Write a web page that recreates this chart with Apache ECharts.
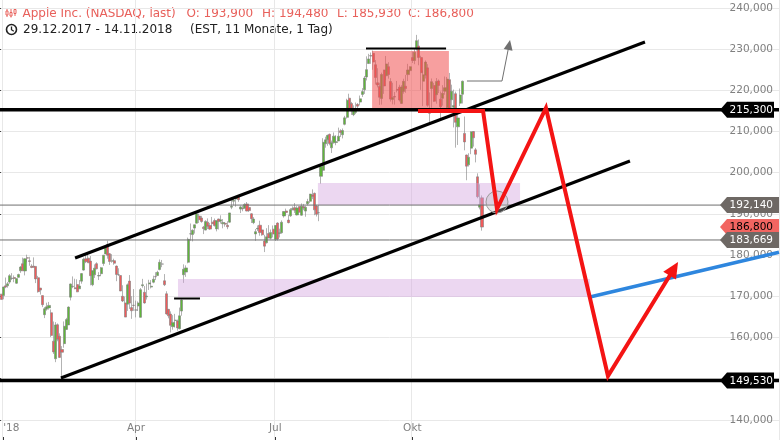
<!DOCTYPE html>
<html><head><meta charset="utf-8">
<script src="https://cdn.jsdelivr.net/npm/echarts@6/dist/echarts.min.js"></script>
<style>html,body{margin:0;padding:0;background:#fff}#c{width:780px;height:440px}</style>
</head><body><div id="c"></div>
<script>
// ---------- data ----------
const tradingMonths = [
  ['2017-12', [29]],
  ['2018-01', [2,3,4,5,8,9,10,11,12,16,17,18,19,22,23,24,25,26,29,30,31]],
  ['2018-02', [1,2,5,6,7,8,9,12,13,14,15,16,20,21,22,23,26,27,28]],
  ['2018-03', [1,2,5,6,7,8,9,12,13,14,15,16,19,20,21,22,23,26,27,28,29]],
  ['2018-04', [2,3,4,5,6,9,10,11,12,13,16,17,18,19,20,23,24,25,26,27,30]],
  ['2018-05', [1,2,3,4,7,8,9,10,11,14,15,16,17,18,21,22,23,24,25,29,30,31]],
  ['2018-06', [1,4,5,6,7,8,11,12,13,14,15,18,19,20,21,22,25,26,27,28,29]],
  ['2018-07', [2,3,5,6,9,10,11,12,13,16,17,18,19,20,23,24,25,26,27,30,31]],
  ['2018-08', [1,2,3,6,7,8,9,10,13,14,15,16,17,20,21,22,23,24,27,28,29,30,31]],
  ['2018-09', [4,5,6,7,10,11,12,13,14,17,18,19,20,21,24,25,26,27,28]],
  ['2018-10', [1,2,3,4,5,8,9,10,11,12,15,16,17,18,19,22,23,24,25,26,29,30,31]],
  ['2018-11', [1,2,5,6,7,8,9,12,13,14]]
];
const futureSlots = 136;

// [open, close, low, high]
const ohlc = [
  [170.52,169.23,169.22,170.59],
  // Jan
  [170.16,172.26,169.26,172.30],[172.53,172.23,171.96,174.55],[172.54,173.03,172.08,173.47],[173.44,175.00,173.05,175.37],
  [174.35,174.35,173.93,175.61],[174.55,174.33,173.41,175.06],[173.16,174.29,173.00,174.30],[174.59,175.28,174.49,175.49],
  [176.18,177.09,175.68,177.36],[177.90,176.19,176.14,179.39],[176.15,179.10,175.07,179.25],[179.37,179.26,178.25,180.10],
  [178.61,178.46,177.41,179.58],[177.30,177.00,176.82,177.78],[177.30,177.04,176.94,179.44],[177.25,174.22,173.20,177.30],
  [174.51,171.11,170.88,174.95],[172.00,171.51,170.41,172.00],[170.16,167.96,167.37,170.16],[165.53,166.97,164.70,167.37],
  [166.87,167.43,166.50,168.44],
  // Feb
  [167.17,167.78,166.76,168.62],[166.00,160.50,160.10,166.80],[159.10,156.49,156.00,163.88],[154.83,163.03,154.00,163.72],
  [163.09,159.54,159.07,163.40],[160.29,155.15,155.03,161.00],[157.07,156.41,150.24,157.89],[158.50,162.71,157.51,163.89],
  [161.95,164.34,161.84,164.75],[163.04,167.37,163.04,167.54],[169.79,172.99,169.00,173.09],[172.36,172.43,171.97,174.82],
  [172.05,171.85,171.70,174.26],[172.83,171.07,171.00,174.12],[171.80,172.50,171.77,173.95],[173.67,175.50,173.05,175.65],
  [176.35,178.97,176.21,179.39],[179.10,178.39,178.05,180.48],[179.26,178.12,178.12,180.62],
  // Mar
  [178.54,175.00,172.66,179.78],[172.80,176.21,172.45,176.30],[175.21,176.82,174.45,177.74],[177.91,176.67,176.55,178.25],
  [174.94,175.03,173.94,175.85],[175.48,176.94,175.07,177.12],[177.96,179.98,177.39,180.00],[180.29,181.72,180.21,182.39],
  [182.59,179.97,179.12,183.50],[180.32,178.44,177.62,180.52],[178.50,178.65,178.15,180.24],[178.65,178.02,177.64,179.12],
  [177.32,175.30,173.66,177.47],[175.24,175.24,174.95,176.80],[175.04,171.27,171.26,175.09],[170.00,168.85,168.60,172.68],
  [168.39,164.94,164.94,169.92],[168.07,172.77,166.44,173.10],[173.68,168.34,166.92,175.15],[167.25,166.48,164.52,170.02],
  [167.81,167.78,166.46,171.75],
  // Apr
  [166.64,166.68,164.88,168.94],[167.64,168.39,166.44,168.75],[164.88,171.61,164.80,172.01],[172.58,172.80,172.08,174.23],
  [170.97,168.38,168.20,172.48],[169.88,170.05,169.20,173.09],[173.00,173.25,171.53,174.00],[172.23,172.44,171.90,173.92],
  [173.41,174.14,173.16,175.00],[174.78,174.73,173.93,175.84],[175.03,175.82,174.94,176.19],[176.49,178.24,176.30,178.94],
  [177.81,177.84,177.06,178.82],[173.76,172.80,172.48,175.39],[170.60,165.72,165.52,171.22],[166.83,165.24,164.64,166.92],
  [165.67,162.94,161.22,166.33],[162.62,163.65,161.88,165.42],[164.12,164.22,162.41,165.73],[164.00,162.32,161.63,164.33],
  [162.13,165.26,161.96,167.26],
  // May
  [166.41,169.10,165.27,169.20],[175.23,176.57,173.25,177.75],[175.88,176.89,174.71,177.50],[178.25,183.83,178.00,184.25],
  [185.18,185.16,183.49,187.67],[184.99,186.05,183.32,186.22],[186.55,187.36,185.22,187.40],[187.74,190.04,187.69,190.37],
  [189.49,188.59,187.78,190.06],[189.01,188.15,187.86,189.53],[186.78,186.44,185.10,187.07],[186.07,188.18,186.00,188.46],
  [188.00,186.99,186.33,188.91],[187.19,186.31,186.13,187.81],[188.00,187.63,186.78,189.27],[188.38,187.16,186.93,188.88],
  [186.35,188.36,185.76,188.50],[188.77,188.15,186.21,188.84],[188.23,188.58,187.65,189.65],[187.60,187.90,186.50,188.75],
  [187.72,187.50,186.90,188.00],[187.22,186.87,186.29,188.23],
  // Jun
  [187.99,190.24,187.86,190.26],[191.64,191.83,191.15,193.42],[193.07,193.31,192.08,193.94],[193.63,193.98,191.74,194.08],
  [194.14,193.46,192.92,194.20],[191.17,191.70,190.21,192.00],[191.35,191.23,190.64,191.97],[191.39,192.28,191.26,192.61],
  [192.42,190.70,190.63,192.88],[191.55,190.80,190.50,191.57],[190.03,188.84,187.79,190.16],[187.88,188.74,187.51,189.22],
  [185.14,185.69,183.45,186.33],[186.35,186.50,185.85,187.20],[187.25,185.46,184.70,188.35],[186.12,184.92,184.70,186.15],
  [183.40,182.17,180.73,184.92],[182.99,184.43,182.82,186.53],[185.23,184.16,184.10,187.28],[184.10,185.50,183.82,186.21],
  [186.29,185.11,184.28,187.19],
  // Jul
  [183.82,187.18,183.42,187.30],[187.79,183.92,183.54,187.95],[185.26,185.40,184.28,186.41],[185.42,187.97,185.20,188.43],
  [189.50,190.58,189.10,190.68],[190.71,190.35,189.78,191.28],[188.50,187.88,187.71,189.78],[189.53,191.03,189.29,191.41],
  [191.08,191.33,190.84,191.84],[191.52,190.91,190.23,192.65],[189.75,191.45,189.63,191.87],[191.78,190.40,190.30,191.80],
  [189.69,191.88,189.56,192.55],[191.78,191.44,190.90,192.43],[190.68,191.61,189.31,191.96],[192.45,193.00,192.07,193.66],
  [193.06,194.82,192.61,194.85],[194.61,194.21,193.59,195.96],[194.99,190.98,189.69,195.19],[191.90,189.91,189.37,192.20],
  [190.30,190.29,188.23,192.14],
  // Aug
  [199.13,201.50,197.31,201.76],[200.58,207.39,200.50,208.38],[207.03,207.99,206.07,208.74],[208.00,209.07,206.55,209.25],
  [209.32,207.11,206.67,209.50],[206.05,207.25,204.78,207.81],[207.28,208.88,207.07,209.78],[207.36,207.53,206.67,209.10],
  [207.70,208.87,207.70,210.95],[210.16,209.75,208.66,210.56],[209.22,210.24,208.33,210.74],[211.75,213.32,211.51,213.81],
  [213.44,217.58,213.16,217.95],[218.10,215.46,214.84,219.18],[216.80,215.04,214.03,217.19],[214.10,215.05,213.74,216.36],
  [214.65,215.49,214.23,217.05],[216.60,216.16,215.11,216.90],[217.15,217.94,216.33,218.74],[219.01,219.70,218.39,220.54],
  [220.15,222.98,219.13,223.49],[223.25,225.03,222.40,228.26],[226.51,227.63,226.41,228.87],
  // Sep
  [228.41,228.36,226.44,229.18],[228.99,226.87,225.00,229.67],[226.23,223.10,221.42,227.35],[221.85,221.30,220.71,225.37],
  [220.95,218.33,216.47,221.85],[218.01,223.85,216.55,224.30],[224.94,221.07,219.15,225.00],[223.52,226.41,222.52,228.35],
  [225.75,223.84,222.84,226.84],[222.15,217.88,217.27,222.95],[217.79,218.24,216.60,221.85],[218.50,218.37,216.55,219.62],
  [220.24,220.03,219.50,222.28],[220.78,217.66,217.29,221.36],[216.82,220.79,216.71,221.26],[219.75,222.19,219.19,222.82],
  [221.00,220.42,219.41,223.75],[223.82,224.95,222.26,226.44],[224.79,225.74,224.57,225.84],
  // Oct
  [227.95,227.26,226.63,229.42],[227.25,229.28,226.35,230.00],[230.05,232.07,229.65,233.47],[230.78,227.99,226.09,232.35],
  [227.96,224.29,220.12,228.41],[222.21,223.77,216.16,224.80],[223.64,226.87,222.88,227.27],[225.46,216.36,216.00,226.35],
  [214.52,214.45,212.16,219.50],[220.42,222.11,215.79,222.88],[221.16,217.36,217.19,221.83],[218.93,222.15,216.76,222.99],
  [222.30,221.19,219.34,222.64],[217.86,216.02,213.19,219.74],[218.06,219.31,216.29,221.26],[219.79,220.65,218.93,223.36],
  [215.83,222.73,215.00,223.25],[222.60,215.09,214.70,224.23],[217.71,219.80,215.75,221.38],[215.90,216.30,211.00,220.19],
  [219.19,212.24,206.09,219.69],[211.15,213.30,206.74,215.18],[216.88,218.86,216.19,220.45],
  // Nov
  [219.05,222.22,216.81,222.36],[209.55,207.48,205.43,213.65],[204.30,201.59,198.17,204.39],[201.92,203.77,201.50,204.72],
  [205.97,209.95,204.50,210.06],[209.98,208.49,206.33,210.12],[205.55,204.47,202.51,206.01],[199.00,194.17,193.79,199.85],
  [191.63,192.23,191.10,197.18],[193.90,186.80,185.93,194.48]
];

const axisMarks = [[1, "'18"], [62, 'Apr'], [126, 'Jul'], [189, 'Okt']];
const yMin = 130, yMax = 250, yStep = 10;

// price levels (tags on the right)
const blackLevels = [215.3, 149.53];
const grayLevels = [192.14, 183.669];
const lastPrice = [186.8];

// drawings, in [slot index, price]
const upperChannel = [[34.0, 179.29], [295.9, 231.74]];
const lowerChannel = [[27.5, 150.15], [289.0, 202.85]];
const redPath = [[191.6, 214.99], [221.5, 214.99], [227.9, 191.19], [250.4, 215.72], [278.9, 150.64], [311.1, 178.32]];
const bluePath = [[270.6, 169.82], [357.5, 180.67]];
const grayArrow = [[214.1, 222.27], [230.2, 222.27], [233.9, 232.23]];
const topBar = [[167.7, 230.17], [204.5, 230.17]];
const lowBar = [[79.5, 169.46], [91.4, 169.46]];
const redZone = [[[170.5, 229.56], [205.8, 215.3]]];
const pinkZones = [[[145.6, 197.5], [238.5, 192.14]], [[81.3, 174.19], [270.6, 169.82]]];
const circleMark = [227.9, 192.89];

// ---------- chart ----------
const tradeDates = tradingMonths.flatMap(([m, ds]) => ds.map(d => m + '-' + String(d).padStart(2, '0')));
const categories = tradeDates.concat(Array.from({length: futureSlots}, (_, k) => 'f' + k));
const labelAt = new Map(axisMarks);
const nSlots = categories.length;
const FONT = '"DejaVu Sans", sans-serif';
const fmt = v => Number(v).toFixed(3).replace('.', ',');

function pathSeries(points, stroke, width, arrow, z) {
  return {
    type: 'custom', xAxisIndex: 1, yAxisIndex: 0, z, silent: true, clip: false,
    data: [[points[0][0], points[0][1]]],
    renderItem(params, api) {
      const pts = points.map(p => api.coord(p));
      const children = [];
      if (arrow) {
        const a = pts[pts.length - 2], b = pts[pts.length - 1];
        const ang = Math.atan2(b[1] - a[1], b[0] - a[0]);
        const c = Math.cos(ang), s = Math.sin(ang);
        const base = [b[0] - c * arrow[0], b[1] - s * arrow[0]];
        pts[pts.length - 1] = [b[0] - c * arrow[0] * 0.6, b[1] - s * arrow[0] * 0.6];
        children.push({type: 'polygon', z2: 2, shape: {points: [b,
          [base[0] - s * arrow[1], base[1] + c * arrow[1]],
          [base[0] + s * arrow[1], base[1] - c * arrow[1]]]}, style: {fill: stroke}});
      }
      children.unshift({type: 'polyline', shape: {points: pts}, style: {stroke, lineWidth: width, fill: null, lineJoin: 'miter', lineCap: 'butt'}});
      return {type: 'group', children};
    }
  };
}
function rectSeries(rects, fill, z) {
  return {
    type: 'custom', xAxisIndex: 1, yAxisIndex: 0, z, silent: true, clip: false,
    data: rects.map(r => [r[0][0], r[0][1]]),
    renderItem(params, api) {
      const r = rects[params.dataIndex];
      const a = api.coord(r[0]), b = api.coord(r[1]);
      return {type: 'rect', shape: {x: Math.min(a[0], b[0]), y: Math.min(a[1], b[1]),
        width: Math.abs(b[0] - a[0]), height: Math.abs(b[1] - a[1])}, style: {fill}};
    }
  };
}
function levelLines(levels, stroke, width, z) {
  return levels.map(v => pathSeries([[-0.5, v], [nSlots - 0.5, v]], stroke, width, null, z));
}
function tagSeries(values, bg, fg, rightInset, z) {
  return {
    type: 'custom', xAxisIndex: 1, yAxisIndex: 0, z, silent: true, clip: false,
    data: values.map(v => [0, v]),
    renderItem(params, api) {
      const cs = params.coordSys;
      const xr = cs.x + cs.width;
      const y = api.coord([0, api.value(1)])[1];
      const h = 8, xe = xr - rightInset;
      return {type: 'group', children: [
        {type: 'polygon', shape: {points: [[xr - 59, y], [xr - 52, y - h], [xe, y - h], [xe, y + h], [xr - 52, y + h]]}, style: {fill: bg}},
        {type: 'text', x: xr - 6, y: y + 0.5, style: {text: fmt(api.value(1)), align: 'right', verticalAlign: 'middle', fill: fg, font: '10.5px ' + FONT}}
      ]};
    }
  };
}

const red = '#e8605b';
const chart = echarts.init(document.getElementById('c'), null, {renderer: 'canvas'});
chart.setOption({
  animation: false,
  backgroundColor: '#fff',
  grid: {left: 0, right: 1, top: -33.2, bottom: -21, outerBoundsMode: 'none', containLabel: false},
  xAxis: [{
    type: 'category', data: categories, boundaryGap: true, offset: -21,
    axisLine: {show: false},
    axisTick: {show: true, inside: true, length: 3, alignWithLabel: true, interval: i => labelAt.has(i), lineStyle: {color: '#333'}},
    axisLabel: {
      inside: true, margin: 6, interval: i => labelAt.has(i), color: '#808080', fontSize: 10.5, fontFamily: FONT,
      formatter: (v, i) => i === axisMarks[0][0] ? '{a|' + labelAt.get(i) + '}' : labelAt.get(i),
      rich: {a: {padding: [0, 0, 0, 16], color: '#808080', fontSize: 10.5, fontFamily: FONT}}
    },
    splitLine: {show: true, interval: i => labelAt.has(i), lineStyle: {color: '#e8e8e8', width: 1}}
  }, {
    type: 'value', min: -0.5, max: nSlots - 0.5, show: false
  }],
  yAxis: {
    type: 'value', position: 'right', min: yMin, max: yMax, interval: yStep,
    axisLine: {show: false},
    axisTick: {show: true, inside: true, length: 3, lineStyle: {color: '#444'}},
    axisLabel: {inside: true, margin: 6, formatter: v => fmt(v), color: '#808080', fontSize: 10.5, fontFamily: FONT},
    splitLine: {show: true, lineStyle: {color: '#e8e8e8', width: 1}}
  },
  graphic: [{type: 'group', z: 20, children: [
    {type: 'rect', shape: {x: 0, y: 0, width: 478, height: 21}, style: {fill: '#fff'}},
    {type: 'rect', shape: {x: 0, y: 21, width: 340, height: 17}, style: {fill: '#fff'}},
    {type: 'line', shape: {x1: 7, y1: 8.5, x2: 7, y2: 17}, style: {stroke: red, lineWidth: 1}},
    {type: 'rect', shape: {x: 6, y: 11, width: 2, height: 4}, style: {fill: '#fff', stroke: red, lineWidth: 1}},
    {type: 'line', shape: {x1: 11, y1: 9, x2: 11, y2: 17.5}, style: {stroke: red, lineWidth: 1}},
    {type: 'rect', shape: {x: 10, y: 12.5, width: 2, height: 3.5}, style: {fill: '#fff', stroke: red, lineWidth: 1}},
    {type: 'line', shape: {x1: 15, y1: 8, x2: 15, y2: 16}, style: {stroke: red, lineWidth: 1}},
    {type: 'rect', shape: {x: 14, y: 9.5, width: 2, height: 4}, style: {fill: '#fff', stroke: red, lineWidth: 1}},
    {type: 'circle', shape: {cx: 11.5, cy: 29.5, r: 5}, style: {fill: null, stroke: '#222', lineWidth: 1.6}},
    {type: 'polyline', shape: {points: [[11.5, 26.5], [11.5, 29.7], [13.8, 31.2]]}, style: {fill: null, stroke: '#222', lineWidth: 1.3}},
    {type: 'text', x: 22.5, y: 13.5, style: {text: 'Apple Inc. (NASDAQ, last)', font: '12px ' + FONT, fill: red, verticalAlign: 'middle'}},
    {type: 'text', x: 186.5, y: 13.5, style: {text: 'O: 193,900', font: '12px ' + FONT, fill: red, verticalAlign: 'middle'}},
    {type: 'text', x: 262, y: 13.5, style: {text: 'H: 194,480', font: '12px ' + FONT, fill: red, verticalAlign: 'middle'}},
    {type: 'text', x: 337, y: 13.5, style: {text: 'L: 185,930', font: '12px ' + FONT, fill: red, verticalAlign: 'middle'}},
    {type: 'text', x: 408, y: 13.5, style: {text: 'C: 186,800', font: '12px ' + FONT, fill: red, verticalAlign: 'middle'}},
    {type: 'text', x: 23, y: 29.5, style: {text: '29.12.2017 - 14.11.2018', font: '12px ' + FONT, fill: '#222', verticalAlign: 'middle'}},
    {type: 'text', x: 190, y: 29.5, style: {text: '(EST, 11 Monate, 1 Tag)', font: '12px ' + FONT, fill: '#222', verticalAlign: 'middle'}}
  ]}],
  series: [
    {
      type: 'candlestick', xAxisIndex: 0, yAxisIndex: 0, data: ohlc, z: 2, barWidth: 2.6, silent: true,
      itemStyle: {color: '#5fb63a', color0: '#f05a5a', borderColor: '#808080', borderColor0: '#808080', borderWidth: 0.6}
    },
    rectSeries(pinkZones, 'rgba(210,160,222,0.42)', 3),
    rectSeries(redZone, 'rgba(240,80,80,0.55)', 3),
    ...levelLines(grayLevels, '#6f6f6f', 1, 4),
    ...levelLines(blackLevels, '#000', 3.5, 5),
    pathSeries(upperChannel, '#000', 3, null, 5),
    pathSeries(lowerChannel, '#000', 3, null, 5),
    pathSeries(topBar, '#000', 2, null, 5),
    pathSeries(lowBar, '#000', 2, null, 5),
    pathSeries(grayArrow, '#707070', 1, [10, 4.5], 6),
    {
      type: 'custom', xAxisIndex: 1, yAxisIndex: 0, z: 6, silent: true, clip: false,
      data: [circleMark],
      renderItem(params, api) {
        const p = api.coord([api.value(0), api.value(1)]);
        return {type: 'circle', shape: {cx: p[0], cy: p[1], r: 11}, style: {fill: 'rgba(190,190,190,0.35)', stroke: '#9a9a9a', lineWidth: 1}};
      }
    },
    pathSeries(bluePath, '#2e86de', 3.5, null, 7),
    pathSeries(redPath, '#f41414', 4, [16, 7.5], 8),
    tagSeries(blackLevels, '#000', '#fff', 5, 10),
    tagSeries(lastPrice, '#f26561', '#000', 0, 10),
    tagSeries(grayLevels, '#6e6864', '#fff', 0, 11)
  ]
});
</script>
</body></html>
